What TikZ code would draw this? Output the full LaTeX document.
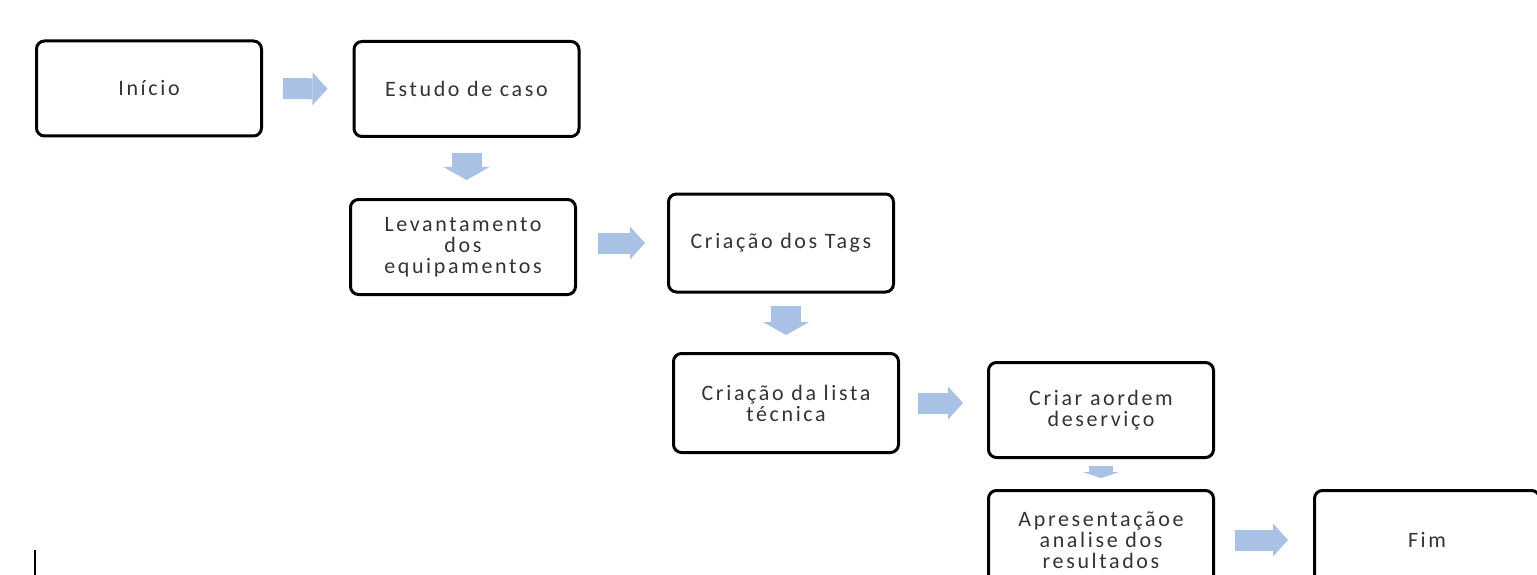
\documentclass[tikz,border=0pt]{standalone}
\usepackage{fontspec}
\newfontfamily\caixafont[LetterSpace=12]{Carlito}
\usetikzlibrary{arrows.meta}
\definecolor{setaazul}{HTML}{A9C1E5}

\begin{document}
\begin{tikzpicture}[x=1pt, y=-1pt,
        caixa/.style={draw, line width=3pt, rounded corners=8pt, align=center, minimum width=225pt, minimum height=95pt, text=black!80, font=\caixafont\fontsize{22}{21}\selectfont},
        seta/.style={draw=setaazul, line width=21pt, -{Triangle[length=15pt, width=33pt, line width=0pt]}},
        setabaixo/.style={draw=setaazul, line width=30pt, -{Triangle[length=13pt, width=46pt, line width=0pt]}}]
        \useasboundingbox (0,0) rectangle (1537,575);

        \node[caixa] (inicio) at (149,88.5) {Início};
        \node[caixa] (estudo) at (466.5,89) {Estudo de caso};
        \node[caixa] (levant) at (463,247) {Levantamento\\dos\\equipamentos};
        \node[caixa, minimum height=98pt] (tags) at (781,243) {Criação dos Tags};
        \node[caixa, minimum height=99pt] (lista) at (786,403) {Criação da lista\\técnica};
        \node[caixa] (criar) at (1101,410) {Criar aordem\\deserviço};
        \node[caixa, minimum height=99pt] (apres) at (1101,540) {Apresentaçãoe\\analise dos\\resultados};
        \node[caixa, minimum height=99pt] (fim) at (1427,540) {Fim};

        \draw[seta, shorten <=20pt, shorten >=25pt] (inicio.east) -- (estudo.west);
        \draw[seta, shorten <=21pt, shorten >=22pt] (tags.west -| levant.east) -- (tags.west);
        \draw[seta, shorten <=18pt, shorten >=24pt] (lista.east) -- (lista.east -| criar.west);
        \draw[seta, shorten <=20pt, shorten >=25pt] (apres.east) -- (fim.west);

        \draw[setabaixo, shorten <=15pt, shorten >=18pt] (estudo.south) -- (estudo.south |- levant.north);
        \draw[setabaixo, shorten <=12pt, shorten >=17pt] (tags.south -| lista.north) -- (lista.north);
        \draw[setabaixo, line width=24pt, -{Triangle[length=6pt, width=37pt, line width=0pt]}, shorten <=7pt, shorten >=11pt] (criar.south) -- (apres.north);

        \draw[line width=2pt] (35,550) -- (35,575);
    \end{tikzpicture}
\end{document}
